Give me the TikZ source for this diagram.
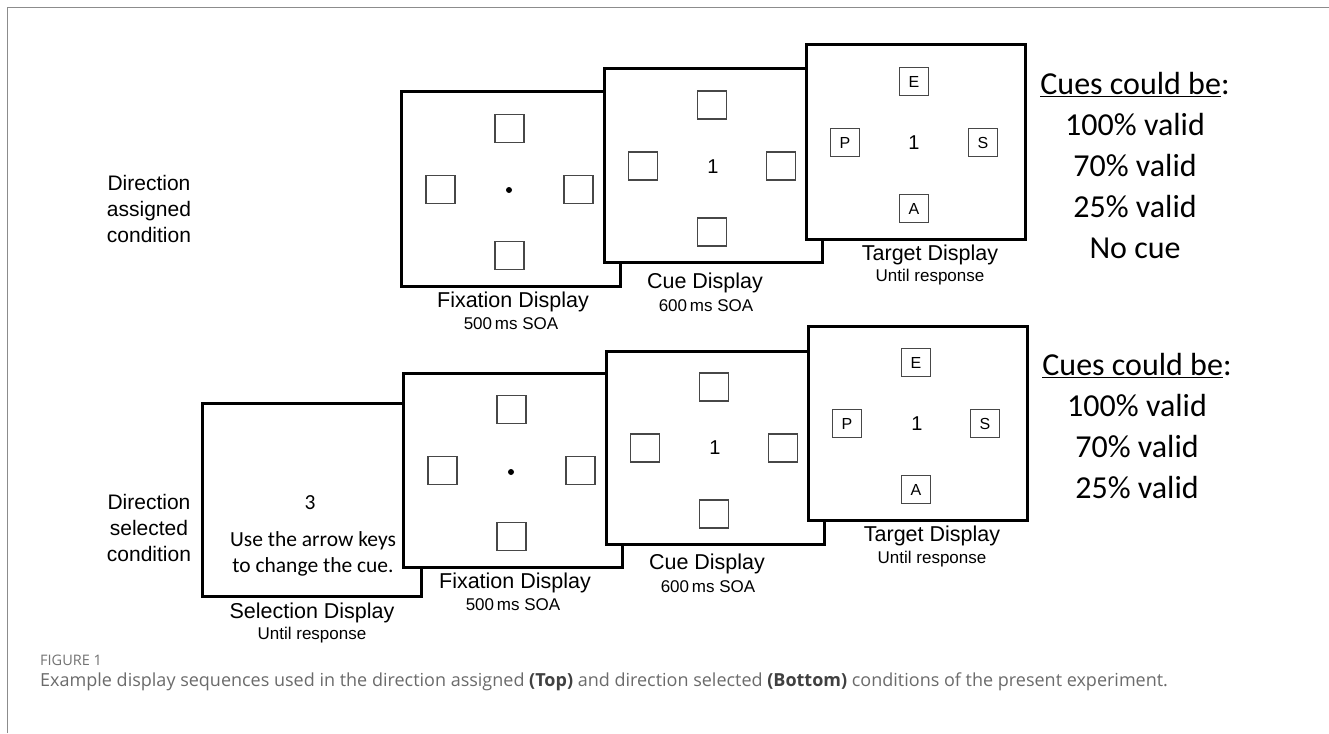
\documentclass[tikz,border=0pt]{standalone}
\usepackage{fontspec}
\setmainfont{Liberation Sans}
\newfontfamily\calibri{Carlito}
\newfontfamily\capfont{Open Sans}
\newcommand{\crossSquares}[7]{%
  \node[sq] (#1-t) at (#2,#3-61) {#4};
  \node[sq] (#1-l) at (#2-69,#3) {#5};
  \node[sq] (#1-r) at (#2+69,#3) {#6};
  \node[sq] (#1-b) at (#2,#3+66) {#7};
}
\begin{document}
\begin{tikzpicture}[x=1pt,y=-1pt,
  disp/.style={draw=black, line width=3pt, fill=white, inner sep=0pt},
  dispsize/.style={minimum width=219pt, minimum height=194pt},
  sq/.style={draw=black!72, line width=1.1pt, fill=white, minimum width=29pt, minimum height=28pt, inner sep=0pt, font=\fontsize{16}{16}\selectfont},
  lbl/.style={font=\fontsize{21.5}{24}\selectfont, inner sep=0pt},
  sublbl/.style={font=\fontsize{17}{20}\selectfont, inner sep=0pt},
  cond/.style={font=\fontsize{21}{26}\selectfont, align=center, inner sep=0pt},
  cues/.style={font=\calibri\fontsize{32}{41}\selectfont, align=center, inner sep=0pt},
  centre/.style={font=\fontsize{20}{20}\selectfont, inner sep=0pt},
  dot/.style={circle, fill=black, inner sep=0pt, minimum size=6pt}]
\useasboundingbox (0,0) rectangle (1329,733);
\fill[white] (0,0) rectangle (1329,733);
% frame
\draw[black!45, line width=1.5pt] (7.5,733) -- (7.5,7.5) -- (1329,7.5);

% ===== top row: direction assigned =====
\node[cond] (condA) at (149,209) {Direction\\assigned\\condition};

\node[disp, dispsize] (fixA) at (510.5,189) {};
\crossSquares{fixA}{509.5}{189.5}{}{}{}{}
\node[dot] (fixAdot) at (509,190) {};
\node[lbl] (fixAlbl) at (513,302) {Fixation Display};
\node[sublbl] (fixAsub) at (511,324) {500\,ms SOA};

\node[disp, dispsize, minimum width=218pt, minimum height=193pt] (cueA) at (713,165.5) {};
\crossSquares{cueA}{712}{166}{}{}{}{}
\node[centre] (cueAnum) at (713,167) {1};
\node[lbl] (cueAlbl) at (705,283) {Cue Display};
\node[sublbl] (cueAsub) at (706,306) {600\,ms SOA};

\node[disp, dispsize] (tgtA) at (915.5,142) {};
\crossSquares{tgtA}{914}{142.5}{E}{P}{S}{A}
\node[centre] (tgtAnum) at (914,143) {1};
\node[lbl] (tgtAlbl) at (930,255) {Target Display};
\node[sublbl] (tgtAsub) at (930,277) {Until response};

\node[cues, anchor=north] (cuesA) at (1135,72) {\underline{Cues could be}:\\100\% valid\\70\% valid\\25\% valid\\No cue};

% ===== bottom row: direction selected =====
\node[cond] (condB) at (149,528) {Direction\\selected\\condition};

\node[disp, dispsize, minimum height=193pt] (selB) at (311.5,499.5) {};
\node[font=\calibri\fontsize{21.5}{21.5}\selectfont, inner sep=0pt] (selBnum) at (310,503) {3};
\node[font=\calibri\fontsize{21.5}{26}\selectfont, align=center, inner sep=0pt] (selBtxt) at (313,554) {Use the arrow keys\\to change the cue.};
\node[lbl] (selBlbl) at (312,613) {Selection Display};
\node[sublbl] (selBsub) at (312,635) {Until response};

\node[disp, dispsize] (fixB) at (512.5,470) {};
\crossSquares{fixB}{511.5}{470.5}{}{}{}{}
\node[dot] (fixBdot) at (511,472) {};
\node[lbl] (fixBlbl) at (515,583) {Fixation Display};
\node[sublbl] (fixBsub) at (513,605) {500\,ms SOA};

\node[disp, dispsize, minimum width=218pt, minimum height=193pt] (cueB) at (715,447.5) {};
\crossSquares{cueB}{714}{448}{}{}{}{}
\node[centre] (cueBnum) at (715,448) {1};
\node[lbl] (cueBlbl) at (707,564) {Cue Display};
\node[sublbl] (cueBsub) at (708,587) {600\,ms SOA};

\node[disp, dispsize] (tgtB) at (917.5,423) {};
\crossSquares{tgtB}{916}{423.5}{E}{P}{S}{A}
\node[centre] (tgtBnum) at (917,424) {1};
\node[lbl] (tgtBlbl) at (932,536) {Target Display};
\node[sublbl] (tgtBsub) at (932,559) {Until response};

\node[cues, anchor=north] (cuesB) at (1137,353) {\underline{Cues could be}:\\100\% valid\\70\% valid\\25\% valid};

% ===== caption =====
\node[anchor=west, inner sep=0pt, text=black!55, font=\capfont\fontsize{14.5}{17}\selectfont] (figno) at (40,660) {FIGURE 1};
\node[anchor=west, inner sep=0pt, text=black!58, font=\capfont\fontsize{18}{22}\selectfont] (caption) at (40,682) {Example display sequences used in the direction assigned \textcolor{black!75}{\textbf{(Top)}} and direction selected \textcolor{black!75}{\textbf{(Bottom)}} conditions of the present experiment.};
\end{tikzpicture}
\end{document}
